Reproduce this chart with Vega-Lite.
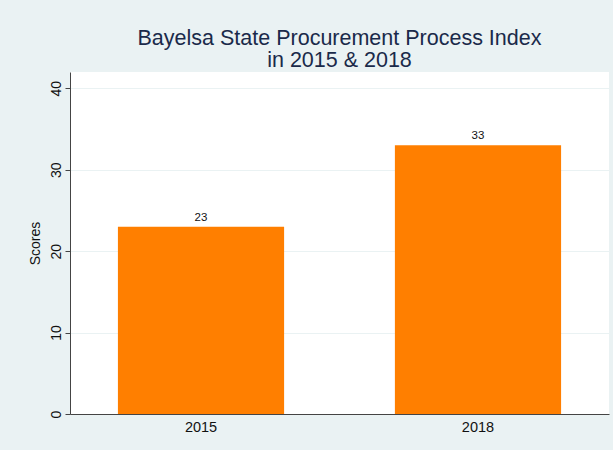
{
  "$schema": "https://vega.github.io/schema/vega-lite/v6.json",
  "autosize": {"type": "none"},
  "width": 539,
  "height": 342,
  "padding": {"left": 70, "top": 72, "right": 4, "bottom": 36},
  "background": "#EAF2F3",
  "config": {
    "view": {"fill": "white", "stroke": null},
    "font": "Liberation Sans"
  },
  "title": {
    "text": ["Bayelsa State Procurement Process Index", "in 2015 & 2018"],
    "fontSize": 21.5,
    "fontWeight": "normal",
    "color": "#1a2a4a",
    "lineHeight": 22,
    "offset": 1,
    "anchor": "middle"
  },
  "data": {
    "values": [
      {"year": "2015", "score": 23},
      {"year": "2018", "score": 33}
    ]
  },
  "encoding": {
    "x": {
      "field": "year",
      "type": "nominal",
      "scale": {"paddingInner": 0.4, "paddingOuter": 0.173},
      "axis": {
        "title": null,
        "labelAngle": 0,
        "ticks": false,
        "labelPadding": 6,
        "labelFontSize": 14.5,
        "labelColor": "#111",
        "domainColor": "#444",
        "grid": false
      }
    },
    "y": {
      "field": "score",
      "type": "quantitative",
      "scale": {"domain": [0, 42], "nice": false},
      "axis": {
        "values": [0, 10, 20, 30, 40],
        "title": "Scores",
        "titleFontSize": 14,
        "titleFontWeight": "normal",
        "titleColor": "#111",
        "titlePadding": 7,
        "labelAngle": 270,
        "labelAlign": "center",
        "labelBaseline": "bottom",
        "labelPadding": 2,
        "labelFontSize": 14,
        "labelColor": "#111",
        "tickSize": 5,
        "tickColor": "#444",
        "domainColor": "#444",
        "gridColor": "#EAF2F3",
        "gridWidth": 1
      }
    }
  },
  "layer": [
    {"mark": {"type": "bar", "color": "#FF7F00"}},
    {
      "mark": {"type": "text", "dy": -9, "fontSize": 11.5, "color": "#111"},
      "encoding": {"text": {"field": "score", "type": "quantitative"}}
    }
  ]
}
